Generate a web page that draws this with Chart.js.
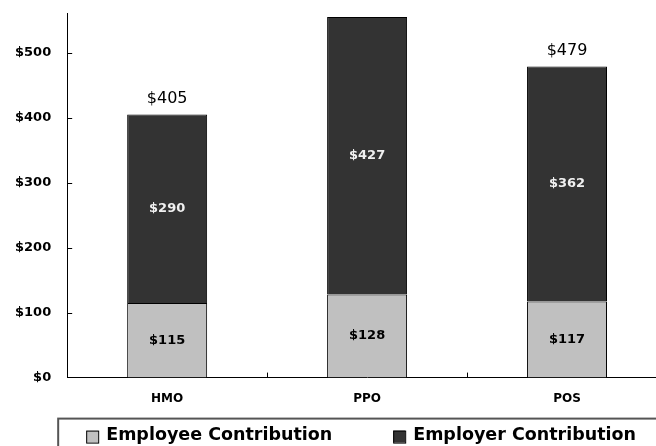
<!DOCTYPE html>
<html>
<head>
<meta charset="utf-8">
<script src="https://cdn.jsdelivr.net/npm/chart.js@4"></script>
<style>
    html, body { margin: 0; padding: 0; background: #fff; overflow: hidden; }
    #wrap { width: 656px; height: 446px; overflow: hidden; }
    #holder { width: 690px; height: 472px; margin-top: -10px; }
</style>
</head>
<body>
<div id="wrap"><div id="holder"><canvas id="chart"></canvas></div></div>
<script>
const categories = ['HMO', 'PPO', 'POS'];
const employeeValues = [115, 128, 117];
const employerValues = [290, 427, 362];
const seriesNames = ['Employee Contribution', 'Employer Contribution'];
const seriesColors = ['#c0c0c0', '#333333'];

const FONT = "'DejaVu Sans', Verdana, sans-serif";

// value labels inside segments and totals on top
const valueLabels = {
    id: 'valueLabels',
    afterDatasetsDraw(chart) {
        const ctx = chart.ctx;
        ctx.save();
        ctx.textAlign = 'center';
        ctx.textBaseline = 'middle';
        ctx.font = 'bold 13px ' + FONT;
        chart.data.datasets.forEach((ds, di) => {
            const meta = chart.getDatasetMeta(di);
            ctx.fillStyle = di === 0 ? '#000' : '#f0f0f0';
            meta.data.forEach((bar, i) => {
                ctx.fillText('$' + ds.data[i], bar.x, (bar.y + bar.base) / 2);
            });
        });
        // totals (the tallest one runs off the top, like the original)
        const top = chart.getDatasetMeta(chart.data.datasets.length - 1);
        ctx.fillStyle = '#000';
        ctx.font = '16px ' + FONT;
        ctx.textBaseline = 'bottom';
        top.data.forEach((bar, i) => {
            const total = employeeValues[i] + employerValues[i];
            if (bar.y - chart.chartArea.top > 30) {
                ctx.fillText('$' + total, bar.x, bar.y - 8);
            }
        });
        ctx.restore();
    }
};

// inward tick marks + boxed legend
const extras = {
    id: 'extras',
    afterDraw(chart) {
        const ctx = chart.ctx;
        const area = chart.chartArea;
        const x = chart.scales.x;
        const y = chart.scales.y;
        ctx.save();
        ctx.strokeStyle = '#000';
        ctx.lineWidth = 1;
        ctx.beginPath();
        y.ticks.forEach(t => {
            if (t.value === 0) return;
            const py = Math.round(y.getPixelForValue(t.value)) + 0.5;
            ctx.moveTo(area.left, py);
            ctx.lineTo(area.left + 5, py);
        });
        for (let i = 0; i < categories.length - 1; i++) {
            const px = Math.round((x.getPixelForTick(i) + x.getPixelForTick(i + 1)) / 2) + 0.5;
            ctx.moveTo(px, area.bottom);
            ctx.lineTo(px, area.bottom - 5);
        }
        ctx.stroke();

        // legend box
        const boxTop = area.bottom + 41;
        ctx.strokeStyle = '#555';
        ctx.lineWidth = 2;
        ctx.strokeRect(area.left - 9, boxTop, chart.width, 60);

        ctx.font = 'bold 17.5px ' + FONT;
        ctx.textBaseline = 'middle';
        ctx.textAlign = 'left';
        const itemX = [area.left + 19, area.left + 326];
        seriesNames.forEach((name, i) => {
            ctx.fillStyle = seriesColors[i];
            ctx.fillRect(itemX[i], boxTop + 12, 12, 12);
            ctx.strokeStyle = '#000';
            ctx.lineWidth = 1;
            ctx.strokeRect(itemX[i] + 0.5, boxTop + 12.5, 12, 12);
            ctx.fillStyle = '#000';
            ctx.fillText(name, itemX[i] + 20, boxTop + 17);
        });
        ctx.restore();
    }
};

new Chart(document.getElementById('chart'), {
    type: 'bar',
    data: {
        labels: categories,
        datasets: [
            {
                label: seriesNames[0],
                data: employeeValues,
                backgroundColor: seriesColors[0],
                borderColor: '#000',
                borderWidth: 1
            },
            {
                label: seriesNames[1],
                data: employerValues,
                backgroundColor: seriesColors[1],
                borderColor: '#000',
                borderWidth: 1
            }
        ]
    },
    options: {
        responsive: true,
        maintainAspectRatio: false,
        animation: false,
        datasets: {
            bar: { barPercentage: 0.4, categoryPercentage: 1 }
        },
        layout: {
            padding: { top: -5, right: 23, bottom: 42, left: -1 }
        },
        plugins: {
            legend: { display: false },
            tooltip: { enabled: false }
        },
        scales: {
            x: {
                stacked: true,
                grid: { display: false, drawTicks: false },
                border: { display: true, color: '#000', width: 1 },
                ticks: {
                    color: '#000',
                    padding: 14,
                    font: { family: FONT, size: 12, weight: 'bold' }
                }
            },
            y: {
                stacked: true,
                min: 0,
                max: 560,
                grid: { display: false, drawTicks: false },
                border: { display: true, color: '#000', width: 1 },
                ticks: {
                    stepSize: 100,
                    includeBounds: false,
                    color: '#000',
                    padding: 16,
                    font: { family: FONT, size: 13, weight: 'bold' },
                    callback: v => '$' + v
                }
            }
        }
    },
    plugins: [valueLabels, extras]
});
</script>
</body>
</html>
